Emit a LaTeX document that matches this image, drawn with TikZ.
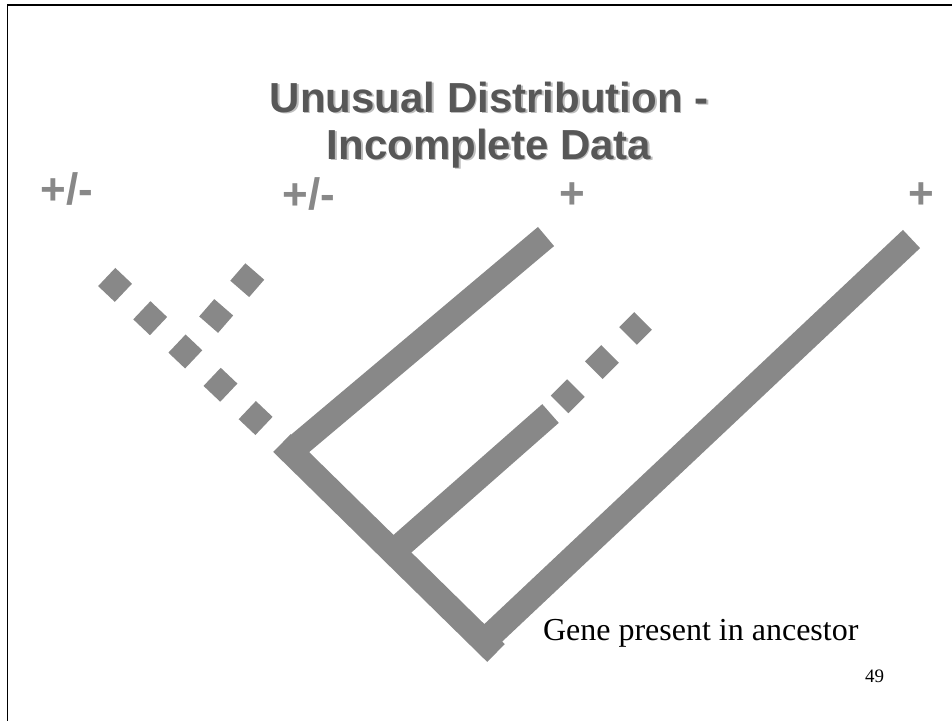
\documentclass[tikz,border=0pt]{standalone}
\usepackage{fontspec}
\setmainfont{Liberation Serif}
\newfontfamily\helv{Liberation Sans}
\usepackage{tikz}
\definecolor{branchCol}{HTML}{888888}
\definecolor{titleCol}{HTML}{575757}
\definecolor{shadowCol}{HTML}{BDBDBD}

\begin{document}
\begin{tikzpicture}[x=1pt, y=-1pt,
    every node/.style={inner sep=0pt, outer sep=0pt},
    branch/.style={draw=branchCol, line width=25pt, line cap=butt},
    missing/.style={branch, dash pattern=on 23pt off 25.4pt},
    taxon/.style={text=branchCol, anchor=base, font=\helv\bfseries\fontsize{44}{44}\selectfont},
    heading/.style={anchor=base, font=\helv\bfseries\fontsize{42}{42}\selectfont}]
    \useasboundingbox (0,0) rectangle (952,721);
    % slide frame
    \draw[line width=1.5pt] (952,5) -- (7.3,5) -- (7.3,721);

    % title, shadow first
    \foreach \d/\col in {1.8/shadowCol, 0/titleCol}{
      \node[heading, text=\col] (title1) at (489+\d,112+\d) {Unusual Distribution -};
      \node[heading, text=\col] (title2) at (489+\d,159+\d) {Incomplete Data};
    }

    % taxa
    \node[taxon] (lab1) at (67,204) {+/-};
    \node[taxon] (lab2) at (309,209) {+/-};
    \node[taxon] (lab3) at (572,208) {+};
    \node[taxon] (lab4) at (921,208) {+};

    % tree points
    \coordinate (anc) at (496,653);
    \coordinate (ancR) at (492,634);
    \coordinate (jA) at (282,443);
    \coordinate (jAb) at (297,446);
    \coordinate (jB) at (393,552);
    \coordinate (jC) at (185.3,351.5);
    \coordinate (endB) at (550.5,413.5);
    \coordinate (tip1) at (106.7,277);
    \coordinate (tip2) at (254.8,271.5);
    \coordinate (tip3) at (546,236.5);
    \coordinate (tipB) at (643,321);
    \coordinate (tip4) at (911.5,239);

    % branches
    \draw[branch] (anc) -- (jA);
    \draw[missing] (tip1) -- (jA);
    \draw[missing, dash pattern=on 23pt off 24.4pt, shorten >=12pt] (tip2) -- (jC);
    \draw[branch] (jAb) -- (tip3);
    \draw[branch] (jB) -- (endB);
    \draw[missing, dash phase=35.5pt] (endB) -- (tipB);
    \draw[branch] (ancR) -- (tip4);

    \node[anchor=base west, font=\fontsize{32}{32}\selectfont] (note) at (543,640) {Gene present in ancestor};
    \node[anchor=base east, font=\fontsize{19}{19}\selectfont] (page) at (884,682) {49};
\end{tikzpicture}
\end{document}
